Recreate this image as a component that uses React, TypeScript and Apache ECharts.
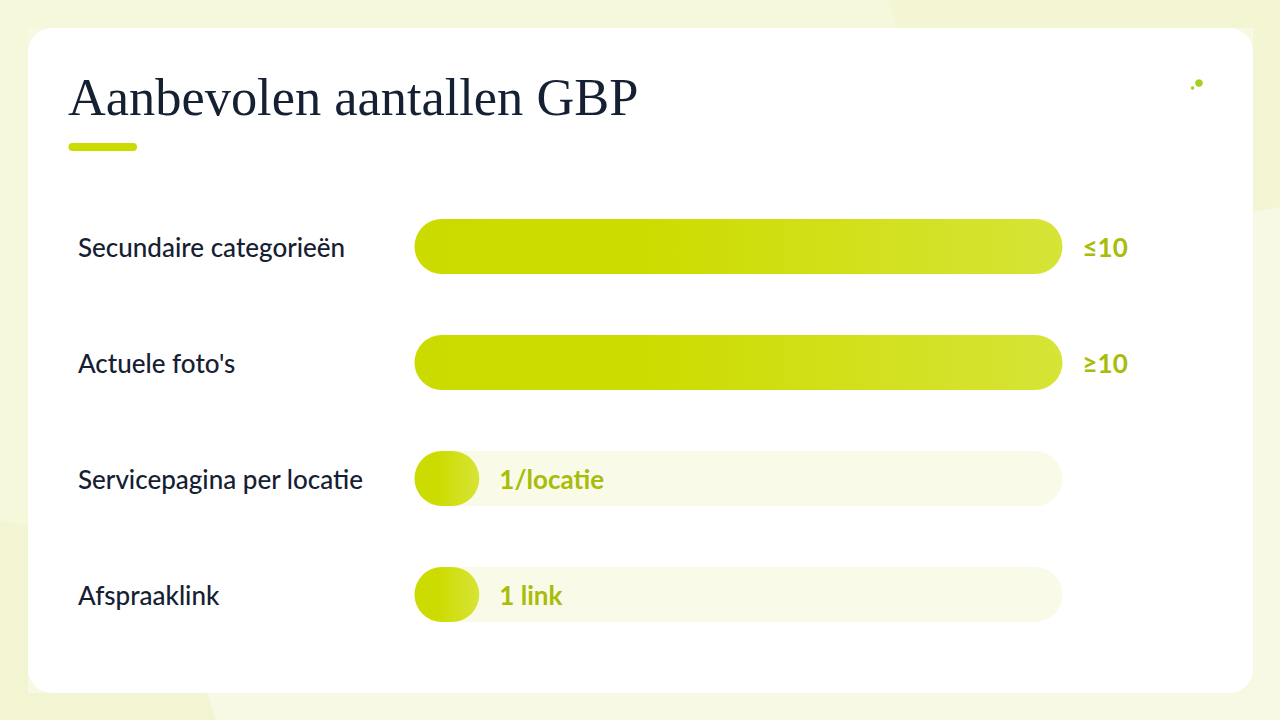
import * as echarts from 'echarts';
import { useEffect, useRef } from 'react';

const categories = ['Secundaire categorieën', "Actuele foto's", 'Servicepagina per locatie', 'Afspraaklink'];
const fillValues = [100, 100, 10, 10];
const valueLabels = ['≤10', '≥10', '1/locatie', '1 link'];

const LABEL_FONT = 'Lato, "Noto Sans", sans-serif';
const BAR_GRADIENT = new echarts.graphic.LinearGradient(0, 0, 1, 0, [
  { offset: 0, color: '#cbdb00' },
  { offset: 0.36, color: '#cddc00' },
  { offset: 1, color: '#d6e437' },
]);

export default function App() {
  const ref = useRef<HTMLDivElement | null>(null);

  useEffect(() => {
    if (!ref.current) return undefined;
    const chart = echarts.init(ref.current, undefined, { renderer: 'svg' });

    chart.setOption({
      animation: false,
      backgroundColor: '#f8f9e4',
      graphic: [
        // page background blobs
        {
          type: 'polygon',
          z: -10,
          shape: { points: [[888, 0], [897, 28], [1253, 28], [1253, 212], [1280, 207], [1280, 0]] },
          style: { fill: '#f3f5d3' },
        },
        {
          type: 'polygon',
          z: -10,
          shape: { points: [[0, 0], [888, 0], [897, 28], [28, 28], [28, 526], [0, 520]] },
          style: { fill: '#f6f8dc' },
        },
        {
          type: 'polygon',
          z: -10,
          shape: { points: [[0, 520], [28, 526], [28, 693], [207, 693], [216, 720], [0, 720]] },
          style: { fill: '#f3f5d2' },
        },
        {
          type: 'rect',
          z: -9,
          shape: { x: 28, y: 28, width: 1225, height: 665, r: 24 },
          style: { fill: '#ffffff' },
        },
        // title + accent
        {
          type: 'text',
          x: 68,
          y: 97,
          style: {
            text: 'Aanbevolen aantallen GBP',
            font: '400 52.4px "Liberation Serif", serif',
            fill: '#162033',
            verticalAlign: 'middle',
          },
        },
        {
          type: 'rect',
          shape: { x: 68.5, y: 143, width: 68.5, height: 8, r: 4 },
          style: { fill: '#cbdb00' },
        },
        // logo dots
        { type: 'circle', shape: { cx: 1199, cy: 83, r: 3.8 }, style: { fill: '#a6d01e' } },
        { type: 'circle', shape: { cx: 1192.5, cy: 88, r: 1.7 }, style: { fill: '#a6d01e' } },
      ],
      grid: { left: 414.5, width: 648, top: 188.5, height: 464 },
      xAxis: { type: 'value', min: 0, max: 100, show: false },
      yAxis: {
        type: 'category',
        inverse: true,
        data: categories,
        axisLine: { show: false },
        axisTick: { show: false },
        axisLabel: {
          margin: 336.5,
          align: 'left',
          color: '#162033',
          fontFamily: LABEL_FONT,
          fontSize: 26,
          fontWeight: 500,
        },
      },
      series: [
        {
          type: 'bar',
          data: fillValues,
          barWidth: 55,
          showBackground: true,
          backgroundStyle: { color: '#f9fbe8', borderRadius: 27.5 },
          itemStyle: { color: BAR_GRADIENT, borderRadius: 27.5 },
          label: {
            show: true,
            position: 'right',
            distance: 20,
            formatter: (p: { dataIndex: number }) => valueLabels[p.dataIndex],
            color: '#a8bc0a',
            fontFamily: LABEL_FONT,
            fontSize: 26,
            fontWeight: 700,
          },
        },
      ],
    });

    return () => chart.dispose();
  }, []);

  return <div ref={ref} style={{ position: 'fixed', left: 0, top: 0, width: 1280, height: 720 }} />;
}
